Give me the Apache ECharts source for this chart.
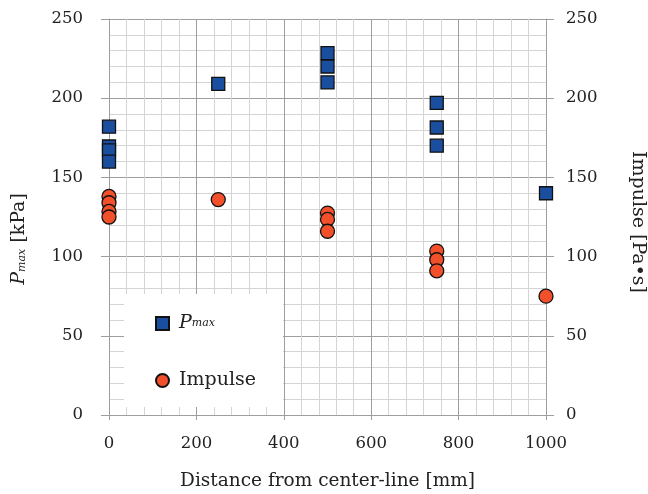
<!DOCTYPE html>
<html>
<head>
<meta charset="utf-8">
<script src="https://cdn.jsdelivr.net/npm/echarts@6.0.0/dist/echarts.min.js"></script>
<style>
  html, body { margin: 0; padding: 0; background: #fff; }
  #chart { width: 648px; height: 494px; }
</style>
</head>
<body>
<div id="chart"></div>
<script>
// data
const pmaxX = [0, 0, 0, 0, 250, 500, 500, 500, 750, 750, 750, 1000];
const pmaxY = [182, 169.5, 167, 160, 209, 228.5, 220, 210, 197, 181.5, 170, 140];
const impulseX = [0, 0, 0, 0, 250, 500, 500, 500, 750, 750, 750, 1000];
const impulseY = [138, 134, 128.5, 125, 136, 127.5, 123.5, 116, 103.5, 98, 91, 75];
const xTicks = [0, 200, 400, 600, 800, 1000];
const yTicks = [0, 50, 100, 150, 200, 250];

const font = 'DejaVu Serif';
const major = '#9e9e9e';
const minor = '#d4d4d4';

var chartDom = document.getElementById('chart');
var myChart = echarts.init(chartDom);

const yAxisBase = {
  type: 'value',
  min: yTicks[0],
  max: yTicks[yTicks.length - 1],
  interval: yTicks[1] - yTicks[0],
  axisLine: { show: true, lineStyle: { color: major } },
  axisTick: { show: true, inside: false, length: 8, lineStyle: { color: major } },
  axisLabel: { color: '#222', fontFamily: font, fontSize: 16.5 },
  nameLocation: 'middle',
  nameTextStyle: { color: '#222', fontFamily: font, fontSize: 19 },
};

var option = {
  animation: false,
  backgroundColor: '#fff',
  // plot box: x 109..546, y 19..415
  grid: { left: 109, right: 102, top: 19, bottom: 79, outerBoundsMode: 'none', containLabel: false },
  xAxis: {
    type: 'value',
    min: xTicks[0],
    max: xTicks[xTicks.length - 1],
    interval: xTicks[1] - xTicks[0],
    axisLine: { show: true, onZero: false, lineStyle: { color: major } },
    axisTick: { show: true, length: 5, lineStyle: { color: major } },
    axisLabel: { color: '#222', fontFamily: font, fontSize: 16.5, margin: 20, formatter: (v) => String(v) },
    splitLine: { show: true, lineStyle: { color: major } },
    minorTick: { show: false, splitNumber: 5 },
    minorSplitLine: { show: true, lineStyle: { color: minor } },
    name: 'Distance from center-line [mm]',
    nameLocation: 'middle',
    nameGap: 57,
    nameTextStyle: { color: '#222', fontFamily: font, fontSize: 18.5, verticalAlign: 'top' },
  },
  yAxis: [
    Object.assign({}, yAxisBase, {
      position: 'left',
      axisLabel: Object.assign({}, yAxisBase.axisLabel, { margin: 26 }),
      splitLine: { show: true, lineStyle: { color: major } },
      minorTick: { show: false, splitNumber: 5 },
      minorSplitLine: { show: true, lineStyle: { color: minor } },
      name: '{p|P}{s|max} [kPa]',
      nameRotate: 90,
      nameGap: 80,
      nameTextStyle: Object.assign({}, yAxisBase.nameTextStyle, {
        padding: [0, 44, 0, 0],
        rich: {
          p: { fontFamily: font, fontSize: 19, fontStyle: 'italic', color: '#222' },
          s: { fontFamily: font, fontSize: 11, fontStyle: 'italic', color: '#222', padding: [6, 0, 0, 0] },
        },
      }),
    }),
    Object.assign({}, yAxisBase, {
      position: 'right',
      axisLabel: Object.assign({}, yAxisBase.axisLabel, { margin: 20 }),
      splitLine: { show: false },
      name: 'Impulse [Pa\u2022s]',
      nameRotate: -90,
      nameGap: 82,
      nameTextStyle: Object.assign({}, yAxisBase.nameTextStyle, { padding: [0, 0, 0, 10] }),
    }),
  ],
  legend: {
    orient: 'vertical',
    left: 155,
    top: 313.5,
    padding: 0,
    itemGap: 37,
    itemWidth: 13,
    itemHeight: 13,
    z: 10,
    textStyle: { color: '#222', fontFamily: font, fontSize: 19, lineHeight: 20, padding: [0, 0, 0, 5],
      rich: {
        p: { fontFamily: font, fontSize: 19, fontStyle: 'italic', color: '#222', lineHeight: 20 },
        s: { fontFamily: font, fontSize: 11, fontStyle: 'italic', color: '#222', lineHeight: 20 },
      },
    },
    formatter: (name) => name === 'Pmax' ? '{p|P}{s|max}' : name,
  },
  graphic: [{
    type: 'rect',
    z: 5,
    shape: { x: 124, y: 294, width: 159, height: 113 },
    style: { fill: '#fff' },
  }],
  series: [
    {
      name: 'Pmax',
      type: 'scatter',
      yAxisIndex: 0,
      symbol: 'rect',
      symbolSize: 13,
      itemStyle: { color: '#1a4fa0', borderColor: '#111', borderWidth: 1.3, opacity: 1 },
      data: pmaxX.map((x, i) => [x, pmaxY[i]]),
      z: 3,
    },
    {
      name: 'Impulse',
      type: 'scatter',
      yAxisIndex: 1,
      symbol: 'circle',
      symbolSize: 14,
      itemStyle: { color: '#f2502b', borderColor: '#111', borderWidth: 1.3, opacity: 1 },
      data: impulseX.map((x, i) => [x, impulseY[i]]),
      z: 3,
    },
  ],
};

option && myChart.setOption(option);
</script>
</body>
</html>
